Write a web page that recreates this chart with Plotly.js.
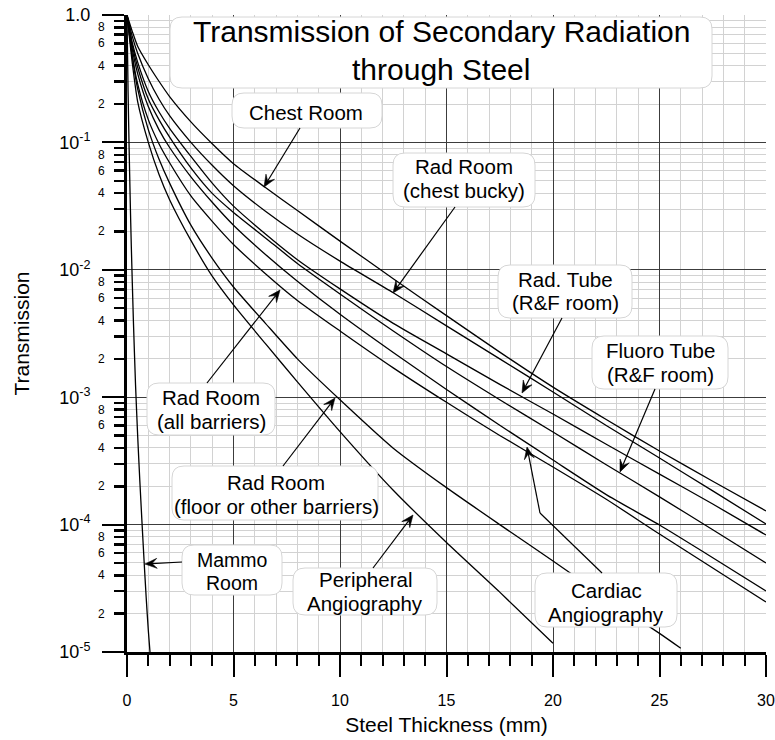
<!DOCTYPE html>
<html><head><meta charset="utf-8">
<script src="https://cdn.plot.ly/plotly-3.0.1.min.js"></script>
<style>html,body{margin:0;padding:0;background:#fff}#chart{width:775px;height:740px}</style>
</head><body><div id="chart"></div>
<script>
// ---------------- data ----------------
const xMain = [0,0.25,0.5,1,1.5,2,3,4,5,6.5,8,10,12.5,15,17.5,20,22.5,25,27.5,30];
const chestRoom = [1,0.741,0.569,0.407,0.302,0.229,0.145,0.0977,0.0681,0.0442,0.0292,0.0168,0.00851,0.00437,0.00226,0.00120,6.68e-4,3.78e-4,2.19e-4,1.28e-4];
const radRoomChestBucky = [1,0.676,0.501,0.316,0.219,0.162,0.1,0.0661,0.0457,0.0288,0.0191,0.0117,0.00661,0.00363,0.00200,0.00110,6.0e-4,3.33e-4,1.84e-4,1.01e-4];
const radTubeRF = [1,0.603,0.427,0.251,0.174,0.129,0.0776,0.0479,0.0316,0.0191,0.0120,0.00708,0.0038,0.00219,0.00126,7.38e-4,4.27e-4,2.49e-4,1.45e-4,8.28e-5];
const fluoroTubeRF = [1,0.575,0.389,0.219,0.151,0.110,0.0631,0.0398,0.0282,0.0178,0.0112,0.00646,0.00331,0.00174,9.55e-4,5.33e-4,2.95e-4,1.65e-4,9.12e-5,5.0e-5];
const cardiacAngio = [1,0.537,0.347,0.191,0.126,0.0912,0.0537,0.0339,0.0224,0.0132,0.00813,0.00447,0.00224,0.00115,6.03e-4,3.21e-4,1.72e-4,9.93e-5,5.5e-5,3.01e-5];
const radRoomAll = [1,0.479,0.288,0.151,0.0977,0.0692,0.038,0.024,0.0158,0.00933,0.00575,0.00331,0.0017,9.12e-4,5.01e-4,2.83e-4,1.58e-4,8.43e-5,4.57e-5,2.47e-5];
const xFloor = [0,0.25,0.5,1,1.5,2,3,4,5,6.5,8,10,12.5,15,17.5,20,22.5,25,26];
const radRoomFloor = [1,0.468,0.263,0.126,0.0741,0.0479,0.0224,0.0123,0.00733,0.0038,0.002,9.55e-4,3.98e-4,1.95e-4,1.0e-4,5.18e-5,2.66e-5,1.40e-5,1.07e-5];
const xPeripheral = [0,0.25,0.5,1,1.5,2,3,4,5,6.5,8,10,12.5,15,17.5,20];
const peripheralAngio = [1,0.417,0.209,0.1,0.0562,0.0355,0.017,0.00891,0.0053,0.00263,0.00132,5.37e-4,1.86e-4,7.24e-5,2.95e-5,1.17e-5];
const xMammo = [0,0.05,0.1,0.15,0.2,0.3,0.4,0.5,0.6,0.7,0.8,0.9,1.0,1.08];
const mammoRoom = [1,0.251,0.0891,0.0355,0.0158,0.00398,0.00126,5.01e-4,2.24e-4,1.07e-4,5.25e-5,2.69e-5,1.48e-5,1.0e-5];

// axis ticks
const xTickVals = [0,5,10,15,20,25,30];
const yDecades = [1,1e-1,1e-2,1e-3,1e-4,1e-5];
const yDecadeText = ['1.0','10<sup>-1</sup>','10<sup>-2</sup>','10<sup>-3</sup>','10<sup>-4</sup>','10<sup>-5</sup>'];
const yMinorMantissas = [2,3,4,5,6,7,8,9];
const yMinorLabelMantissas = [2,4,6,8];

// ---------------- layout helpers ----------------
const W=775,H=740,L=127,R=9,T=15,B=88;
const PW=W-L-R, PH=H-T-B;
const FONT='Arial, "Liberation Sans", sans-serif';
const px2paperX = p => (p-L)/PW;
const px2paperY = p => (H-B-p)/PH;

function roundBox(x0,y0,x1,y1,r){
  const a=px2paperX(x0), b=px2paperX(x1), c=px2paperY(y0), d=px2paperY(y1);
  const rx=r/PW, ry=r/PH;
  return `M${a+rx},${c} L${b-rx},${c} Q${b},${c} ${b},${c-ry} L${b},${d+ry} Q${b},${d} ${b-rx},${d} L${a+rx},${d} Q${a},${d} ${a},${d+ry} L${a},${c-ry} Q${a},${c} ${a+rx},${c} Z`;
}

const labels = [
  {box:[170,17,712,88], size:30, lines:[['Transmission of Secondary Radiation',441,31.5],['through Steel',441,69]]},
  {box:[232,93,382,128], size:20.5, lines:[['Chest Room',306,112.5]]},
  {box:[393,153,535,207], size:20.5, lines:[['Rad Room',464,166.5],['(chest bucky)',464,190]]},
  {box:[498,265,632,318], size:20.5, lines:[['Rad. Tube',565,279],['(R&amp;F room)',565,302.5]]},
  {box:[592,336,728,389], size:20.5, lines:[['Fluoro Tube',660,350.5],['(R&amp;F room)',660,374]]},
  {box:[147,383,275,435], size:20.5, lines:[['Rad Room',211,397.5],['(all barriers)',211,421]]},
  {box:[172,466,378,520], size:20.5, lines:[['Rad Room',276,482.5],['(floor or other barriers)',276,506]]},
  {box:[182,545,282,595], size:19.5, lines:[['Mammo',232,560],['Room',232,583]]},
  {box:[293,568,437,615], size:20.5, lines:[['Peripheral',365,579.5],['Angiography',365,603]]},
  {box:[535,573,677,627], size:20.5, lines:[['Cardiac',606,590.5],['Angiography',606,614]]}
];
// arrows: tail (label box) -> head (curve), pixel positions
const arrows = [
  {head:[264,187], tail:[300,128]},
  {head:[393,293], tail:[455,207]},
  {head:[522,393], tail:[562,318]},
  {head:[620,472], tail:[655,389]},
  {head:[280,290], tail:[207,383]},
  {head:[335,398], tail:[283,466]},
  {head:[145,564], tail:[182,562]},
  {head:[413,515], tail:[373,568]},
  {head:[527,447], tail:[540,513]}
];
const cardiacBend = [[602,573],[540,513]];

// ---------------- traces ----------------
const lineStyle = {color:'black', width:1.3, shape:'spline', smoothing:0.6};
const series = [
  ['Chest Room', xMain, chestRoom],
  ['Rad Room (chest bucky)', xMain, radRoomChestBucky],
  ['Rad. Tube (R&F room)', xMain, radTubeRF],
  ['Fluoro Tube (R&F room)', xMain, fluoroTubeRF],
  ['Cardiac Angiography', xMain, cardiacAngio],
  ['Rad Room (all barriers)', xMain, radRoomAll],
  ['Rad Room (floor or other barriers)', xFloor, radRoomFloor],
  ['Peripheral Angiography', xPeripheral, peripheralAngio],
  ['Mammo Room', xMammo, mammoRoom]
];
const traces = series.map(s => ({type:'scatter', mode:'lines', name:s[0], x:s[1], y:s[2], line:lineStyle, hoverinfo:'skip'}));

// ---------------- ticks ----------------
const yMinorVals = [];
yDecades.slice(1).forEach(d => yMinorMantissas.forEach(m => yMinorVals.push(m*d)));

// ---------------- shapes & annotations ----------------
const P = p => `${px2paperX(p[0])},${px2paperY(p[1])}`;
function lineShape(a,b){
  return {type:'line', xref:'paper', yref:'paper', layer:'above',
    x0:px2paperX(a[0]), y0:px2paperY(a[1]), x1:px2paperX(b[0]), y1:px2paperY(b[1]), line:{color:'black', width:1.2}};
}
function arrowShapes(t,h){
  const dx=h[0]-t[0], dy=h[1]-t[1], len=Math.hypot(dx,dy), ux=dx/len, uy=dy/len, nx=-uy, ny=ux;
  const AL=12, AW=5, NOTCH=7;
  const b1=[h[0]-ux*AL+nx*AW, h[1]-uy*AL+ny*AW];
  const b2=[h[0]-ux*AL-nx*AW, h[1]-uy*AL-ny*AW];
  const n=[h[0]-ux*NOTCH, h[1]-uy*NOTCH];
  return [lineShape(t,n),
    {type:'path', xref:'paper', yref:'paper', layer:'above', path:`M${P(h)} L${P(b1)} L${P(n)} L${P(b2)} Z`,
     fillcolor:'black', line:{color:'black', width:0.6}}];
}

const shapes = labels.map(l => ({type:'path', xref:'paper', yref:'paper', layer:'above',
  path: roundBox(l.box[0],l.box[1],l.box[2],l.box[3],12), fillcolor:'white', line:{color:'#d6d6d6', width:1}}));
shapes.push(lineShape(cardiacBend[0], cardiacBend[1]));
arrows.forEach(a => arrowShapes(a.tail, a.head).forEach(s => shapes.push(s)));

const annotations = [];
labels.forEach(l => l.lines.forEach(t => annotations.push({
  xref:'paper', yref:'paper', x:px2paperX(t[1]), y:px2paperY(t[2]), text:t[0], showarrow:false,
  xanchor:'center', yanchor:'middle', font:{family:FONT, size:l.size, color:'black'}})));
yDecades.slice(1).forEach(d => yMinorLabelMantissas.forEach(m => annotations.push({
  xref:'paper', yref:'y', x:px2paperX(107), y:Math.log10(m*d), text:String(m), showarrow:false,
  xanchor:'right', yanchor:'middle', font:{family:FONT, size:12, color:'black'}})));

const layout = {
  width:W, height:H, margin:{l:L, r:R, t:T, b:B, pad:0},
  paper_bgcolor:'white', plot_bgcolor:'white', showlegend:false,
  font:{family:FONT, color:'black'},
  xaxis:{range:[0,30], tickmode:'array', tickvals:xTickVals, ticks:'outside', ticklen:22, tickwidth:2, tickcolor:'black',
    showline:true, linewidth:3, linecolor:'black', showgrid:true, gridcolor:'#3c3c3c', gridwidth:1, zeroline:false,
    tickfont:{family:FONT, size:16, color:'black'}, ticklabelstandoff:10, automargin:false,
    minor:{dtick:1, ticks:'outside', ticklen:11, tickwidth:2, tickcolor:'black', showgrid:true, gridcolor:'#d2d2d2', gridwidth:1},
    title:{text:'Steel Thickness (mm)', font:{family:FONT, size:21, color:'black'}, standoff:10}},
  yaxis:{type:'log', range:[-5,0], tickmode:'array', tickvals:yDecades, ticktext:yDecadeText, ticks:'outside', ticklen:22, tickwidth:2, tickcolor:'black',
    showline:true, linewidth:3, linecolor:'black', showgrid:true, gridcolor:'#3c3c3c', gridwidth:1, zeroline:false,
    tickfont:{family:FONT, size:18, color:'black'}, ticklabelstandoff:8, automargin:false,
    minor:{tickmode:'array', tickvals:yMinorVals, ticks:'outside', ticklen:10, tickwidth:2.5, tickcolor:'black', showgrid:true, gridcolor:'#d2d2d2', gridwidth:1},
    title:{text:'Transmission', font:{family:FONT, size:21, color:'black'}, standoff:24}},
  shapes:shapes, annotations:annotations
};

Plotly.newPlot('chart', traces, layout, {displayModeBar:false, staticPlot:true});
</script></body></html>
